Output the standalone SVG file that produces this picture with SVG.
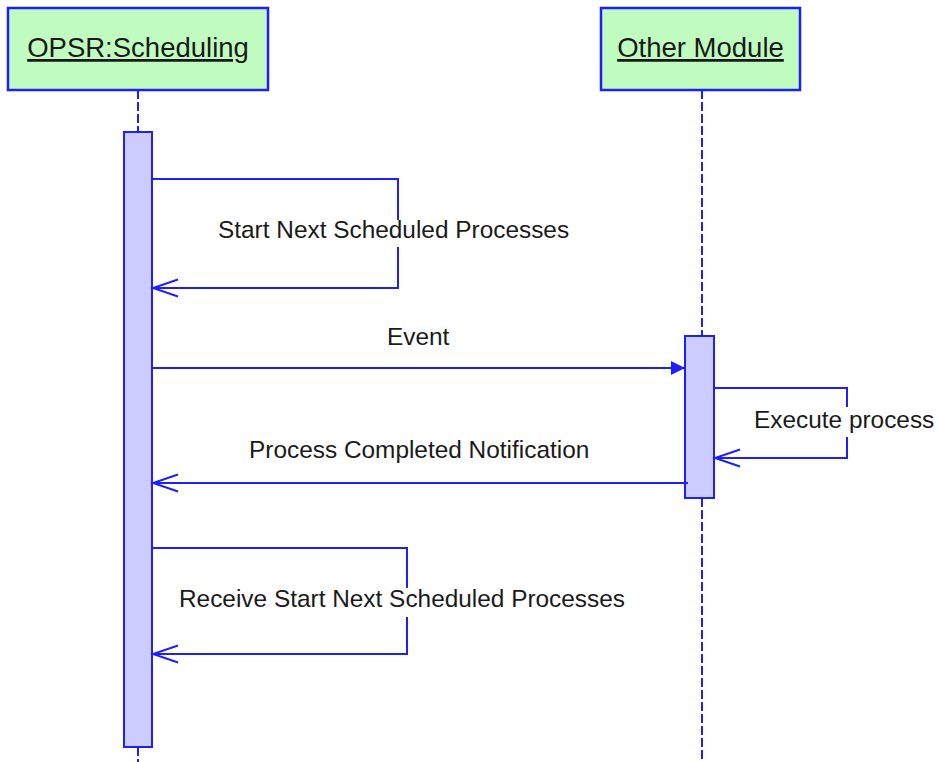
<svg xmlns="http://www.w3.org/2000/svg" width="939" height="762" viewBox="0 0 939 762">
<style>
.hdr{fill:#c0fcc0;stroke:#1e1eff;stroke-width:2.5}
.hdrt{font-family:"Liberation Sans",Arial,sans-serif;font-size:27.5px;fill:#1a1a1a;text-anchor:middle;text-decoration:underline}
.life{stroke:#1e1eff;stroke-width:2;stroke-dasharray:9 3;fill:none}
.act{fill:#ccccff;stroke:#1e1eff;stroke-width:2}
.msg{stroke:#1e1eff;stroke-width:2;fill:none}
.lbl{font-family:"Liberation Sans",Arial,sans-serif;font-size:24.4px;fill:#1a1a1a}
.bg{fill:#ffffff}
</style>
<defs>
<marker id="open" markerUnits="userSpaceOnUse" markerWidth="30" markerHeight="22" refX="27" refY="11" orient="auto" viewBox="0 0 30 22">
<path d="M2,2.5 L27,11 L2,19.5" fill="none" stroke="#1e1eff" stroke-width="2"/>
</marker>
<marker id="filled" markerUnits="userSpaceOnUse" markerWidth="16" markerHeight="16" refX="14" refY="8" orient="auto" viewBox="0 0 16 16">
<path d="M0,1 L14,8 L0,15 Z" fill="#1e1eff"/>
</marker>
</defs>
<rect width="939" height="762" fill="#ffffff"/>
<g id="lifelines">
<line class="life" x1="138" y1="90" x2="138" y2="132"/>
<line class="life" x1="138" y1="747" x2="138" y2="762"/>
<line class="life" x1="702" y1="90" x2="702" y2="336"/>
<line class="life" x1="702" y1="498" x2="702" y2="762"/>
</g>
<g id="opsr">
<rect class="hdr" x="8" y="8" width="260" height="82"/>
<text class="hdrt" x="138" y="57">OPSR:Scheduling</text>
<rect class="act" x="124" y="132" width="28" height="615"/>
</g>
<g id="other">
<rect class="hdr" x="601" y="8" width="199" height="82"/>
<text class="hdrt" x="700.5" y="57">Other Module</text>
<rect class="act" x="685" y="336" width="29" height="162"/>
</g>
<g id="connectors">
<path class="msg" d="M152,179 H398 V288 H153" marker-end="url(#open)"/>
<line class="msg" x1="152" y1="368" x2="685" y2="368" marker-end="url(#filled)"/>
<path class="msg" d="M714,388 H847 V458 H715" marker-end="url(#open)"/>
<line class="msg" x1="688" y1="483" x2="153" y2="483" marker-end="url(#open)"/>
<path class="msg" d="M152,548 H407 V654 H153" marker-end="url(#open)"/>
</g>
<g id="labels">
<rect class="bg" x="390" y="220" width="16" height="27"/>
<text class="lbl" x="218" y="238">Start Next Scheduled Processes</text>
<text class="lbl" x="387" y="345">Event</text>
<rect class="bg" x="840" y="407" width="16" height="30"/>
<text class="lbl" x="754" y="428">Execute process</text>
<text class="lbl" x="249" y="458">Process Completed Notification</text>
<rect class="bg" x="399" y="588" width="16" height="29"/>
<text class="lbl" x="179" y="607">Receive Start Next Scheduled Processes</text>
</g>
</svg>
